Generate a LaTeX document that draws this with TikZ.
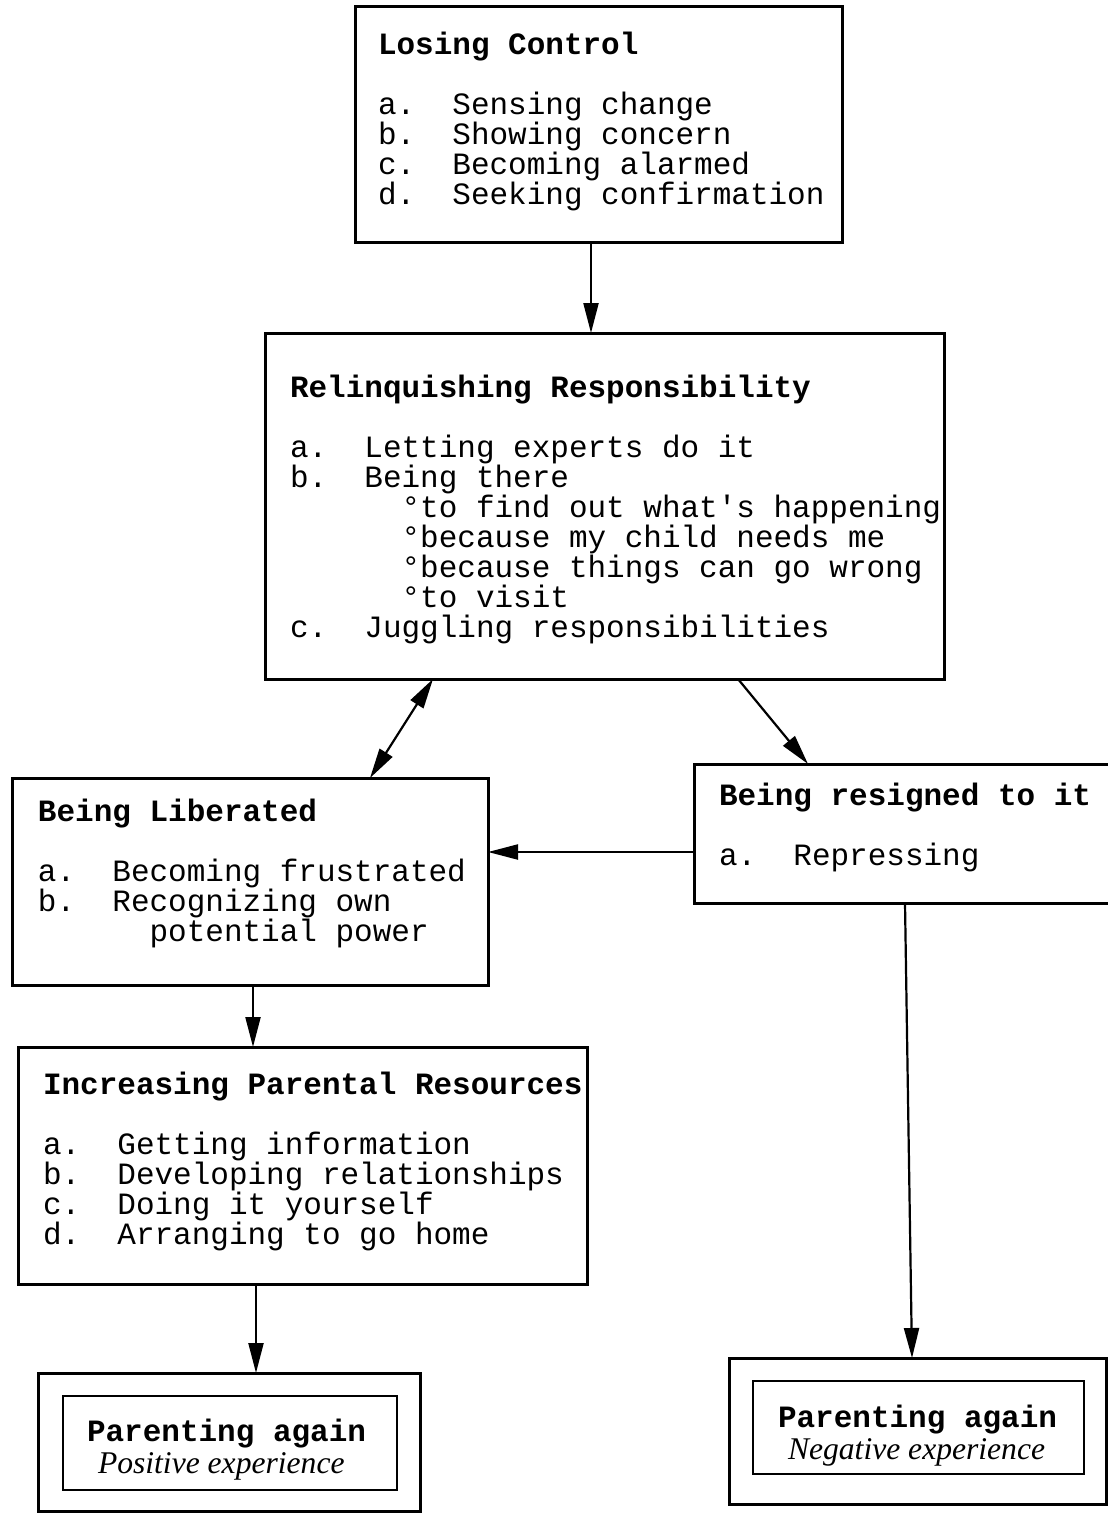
\documentclass[tikz,border=0pt]{standalone}
\usepackage{fontspec}
\setmainfont{Liberation Serif}
\setmonofont{Liberation Mono}
\usetikzlibrary{arrows.meta}
\newcommand\mytt{\ttfamily\fontsize{15.5}{15}\selectfont\lineskiplimit=-30pt\frenchspacing}
\newcommand\strt{\rule{0pt}{11pt}}
\newcommand\ind{\hphantom{xxxxxx}}
\begin{document}
\begin{tikzpicture}[x=0.5pt,y=-0.5pt,
  box/.style={draw, line width=1.5pt, inner sep=0pt, outer sep=0pt, rectangle},
  ibox/.style={draw, line width=1.3pt, inner sep=0pt, outer sep=0pt, rectangle},
  arr/.style={line width=1.1pt, -{Triangle[length=15pt,width=7.5pt]}},
  darr/.style={line width=1.1pt, {Triangle[length=15pt,width=7.5pt]}-{Triangle[length=15pt,width=7.5pt]}},
  txt/.style={inner sep=0pt, outer sep=0pt, anchor=north west, align=left, font=\mytt},
]
\useasboundingbox (0,0) rectangle (1108,1515);
\clip (0,0) rectangle (1108,1515);
\fill[white] (0,0) rectangle (1108,1515);

% boxes
\node[box, minimum width=243.5pt, minimum height=118pt] (lc) at (598.5,124) {};
\node[box, minimum width=339.5pt, minimum height=173pt] (rr) at (604.5,506) {};
\node[box, minimum width=238pt, minimum height=103.5pt] (bl) at (250,881.5) {};
\node[box, minimum width=213pt, minimum height=69.5pt] (br) at (907,833.5) {};
\node[box, minimum width=284.5pt, minimum height=118.5pt] (ipr) at (302.5,1165.5) {};
\node[box, minimum width=191pt, minimum height=69pt] (poso) at (229,1442) {};
\node[ibox, minimum width=167pt, minimum height=47pt] (posi) at (230,1443) {};
\node[box, minimum width=188.5pt, minimum height=73pt] (nego) at (917.5,1431) {};
\node[ibox, minimum width=165.5pt, minimum height=46.5pt] (negi) at (918.5,1427.5) {};

% texts
\node[txt] (lct) at (378,32) {\strt\textbf{Losing Control}\\[15pt]
a.\ \ Sensing change\\
b.\ \ Showing concern\\
c.\ \ Becoming alarmed\\
d.\ \ Seeking confirmation};

\node[txt] (rrt) at (290,375) {\strt\textbf{Relinquishing Responsibility}\\[15pt]
a.\ \ Letting experts do it\\
b.\ \ Being there\\
\ind°to find out what's happening\\
\ind°because my child needs me\\
\ind°because things can go wrong\\
\ind°to visit\\
c.\ \ Juggling responsibilities};

\node[txt] (blt) at (38,799) {\strt\textbf{Being Liberated}\\[15pt]
a.\ \ Becoming frustrated\\
b.\ \ Recognizing own\\
\ind potential power};

\node[txt] (brt) at (719,783) {\strt\textbf{Being resigned to it}\\[15pt]
a.\ \ Repressing};

\node[txt] (iprt) at (43,1072) {\strt\textbf{Increasing Parental Resources}\\[15pt]
a.\ \ Getting information\\
b.\ \ Developing relationships\\
c.\ \ Doing it yourself\\
d.\ \ Arranging to go home};

\node[txt] (post) at (87,1419) {\strt\textbf{Parenting again}\\[1pt]
\hspace*{5.5pt}{\rmfamily\itshape\fontsize{15.8}{15}\selectfont Positive experience}};

\node[txt] (negt) at (778,1405) {\strt\textbf{Parenting again}\\[1pt]
\hspace*{5pt}{\rmfamily\itshape\fontsize{15.8}{15}\selectfont Negative experience}};

% connectors
\draw[arr] ([xshift=-3.75pt]lc.south) -- ([xshift=-3.75pt]lc.south |- rr.north);
\draw[darr] ([xshift=-85.75pt]rr.south) -- ([xshift=60pt]bl.north);
\draw[arr] ([xshift=66.75pt]rr.south) -- ([xshift=-49.5pt]br.north);
\draw[arr] ([yshift=-9.25pt]br.west) -- ([yshift=-9.25pt]br.west -| bl.east);
\draw[arr] ([xshift=1.5pt]bl.south) -- ([xshift=1.5pt]bl.south |- ipr.north);
\draw[arr] ([xshift=-23.25pt]ipr.south) -- ([xshift=13.5pt]poso.north);
\draw[arr] ([xshift=-1pt]br.south) -- ([xshift=-2.75pt]nego.north);
\end{tikzpicture}
\end{document}
